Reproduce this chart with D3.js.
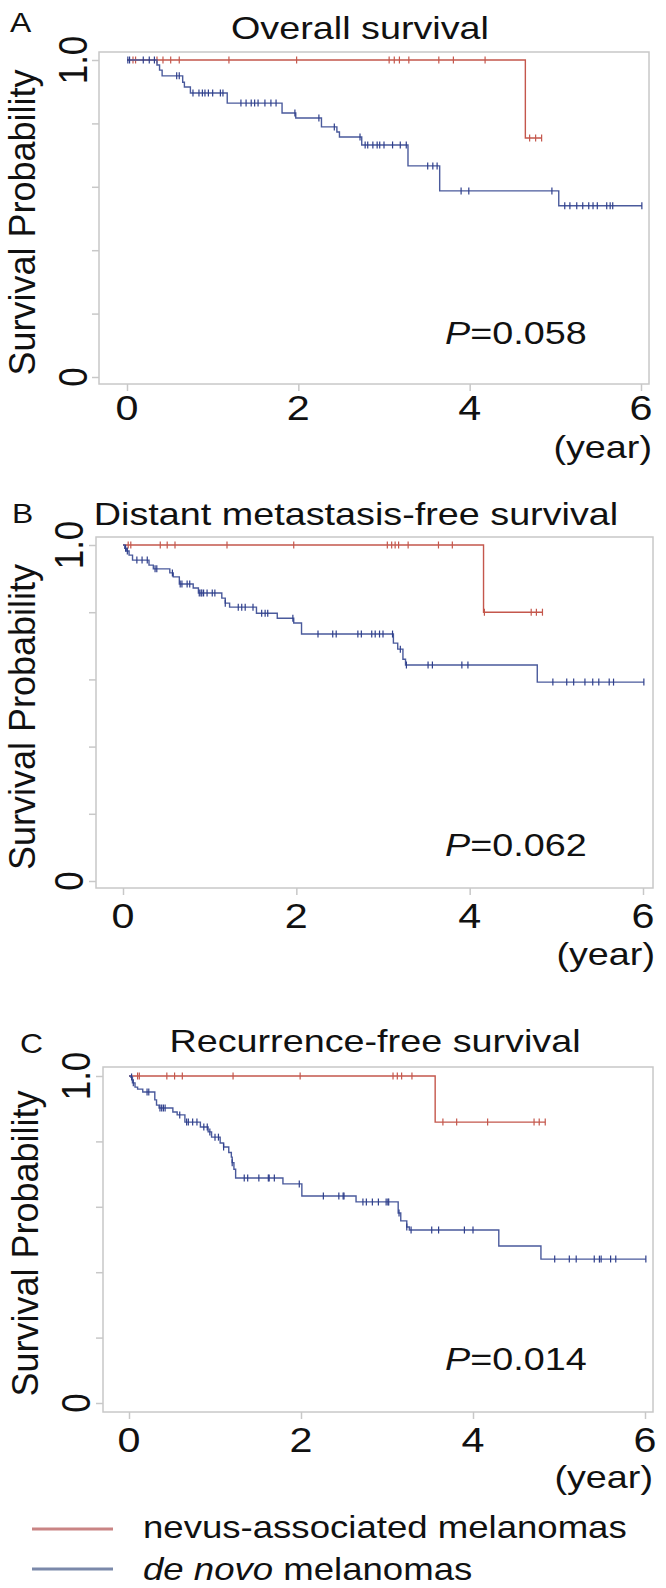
<!DOCTYPE html>
<html><head><meta charset="utf-8">
<script src="https://cdn.jsdelivr.net/npm/d3@7"></script>
<style>
body{margin:0;background:#fff}
svg{display:block}
text{font-family:"Liberation Sans",Arial,Helvetica,sans-serif;fill:#111}
</style>
</head><body>
<svg id="chart" width="666" height="1588"></svg>
<script>
// ---------------- DATA ----------------
const panelLetters = ["A", "B", "C"];
const panelTitles = ["Overall survival", "Distant metastasis-free survival", "Recurrence-free survival"];
const pValues = ["0.058", "0.062", "0.014"];
const seriesNames = ["nevus-associated melanomas", "de novo melanomas"];
const xTickValues = [0, 2, 4, 6];
const xTickLabels = ["0", "2", "4", "6"];
const yTickValues = [0, 0.2, 0.4, 0.6, 0.8, 1.0];
const yTickLabels = ["0", "", "", "", "", "1.0"];
const xUnitLabel = "(year)";
const yAxisTitle = "Survival Probability";

// Panel A - Overall survival
const A_nevus_eventTimes = [4.65];
const A_nevus_survival = [0.754];
const A_nevus_censored = [0.07, 0.10, 0.35, 0.42, 0.51, 0.61, 1.19, 1.98, 3.06, 3.12, 3.18, 3.29, 3.64, 3.81, 4.18, 4.70, 4.77, 4.84];
const A_denovo_eventTimes = [0.35, 0.38, 0.41, 0.65, 0.67, 0.74, 1.17, 1.81, 1.97, 2.27, 2.45, 2.48, 2.74, 3.28, 3.65, 5.04];
const A_denovo_survival = [0.984, 0.968, 0.950, 0.930, 0.915, 0.896, 0.864, 0.833, 0.817, 0.789, 0.773, 0.757, 0.732, 0.666, 0.587, 0.540];
const A_denovo_censored = [0.01, 0.03, 0.19, 0.26, 0.32, 0.58, 0.61, 0.77, 0.84, 0.88, 0.91, 0.95, 1.00, 1.09, 1.12, 1.33, 1.39, 1.45, 1.49, 1.53, 1.61, 1.68, 1.74, 1.96, 2.24, 2.42, 2.72, 2.78, 2.81, 2.87, 2.92, 2.95, 3.00, 3.10, 3.19, 3.26, 3.51, 3.57, 3.62, 3.90, 3.99, 4.96, 5.11, 5.17, 5.25, 5.32, 5.39, 5.44, 5.49, 5.60, 5.64, 5.67, 6.01];

// Panel B - Distant metastasis-free survival
const B_nevus_eventTimes = [4.16];
const B_nevus_survival = [0.800];
const B_nevus_censored = [0.06, 0.09, 0.43, 0.51, 0.60, 1.20, 1.97, 3.05, 3.10, 3.14, 3.18, 3.29, 3.64, 3.80, 4.17, 4.71, 4.77, 4.84];
const B_denovo_eventTimes = [0.02, 0.04, 0.07, 0.11, 0.30, 0.35, 0.54, 0.58, 0.65, 0.81, 0.87, 1.14, 1.18, 1.23, 1.54, 1.78, 1.97, 2.06, 3.12, 3.17, 3.23, 3.26, 4.78];
const B_denovo_survival = [0.990, 0.982, 0.970, 0.955, 0.940, 0.929, 0.917, 0.905, 0.884, 0.872, 0.857, 0.842, 0.827, 0.815, 0.797, 0.782, 0.768, 0.735, 0.708, 0.690, 0.660, 0.643, 0.592];
const B_denovo_censored = [0.03, 0.05, 0.16, 0.22, 0.28, 0.37, 0.39, 0.57, 0.66, 0.68, 0.74, 0.77, 0.88, 0.90, 0.91, 0.93, 0.97, 1.03, 1.06, 1.18, 1.33, 1.37, 1.41, 1.50, 1.60, 1.64, 1.67, 1.96, 2.25, 2.42, 2.46, 2.71, 2.75, 2.87, 2.91, 2.96, 3.00, 3.11, 3.20, 3.27, 3.52, 3.57, 3.91, 3.98, 4.96, 5.12, 5.20, 5.33, 5.42, 5.49, 5.61, 5.66, 6.01];

// Panel C - Recurrence-free survival
const C_nevus_eventTimes = [3.56];
const C_nevus_survival = [0.859];
const C_nevus_censored = [0.10, 0.12, 0.44, 0.53, 0.62, 1.21, 1.99, 3.07, 3.12, 3.17, 3.29, 3.65, 3.81, 4.17, 4.71, 4.77, 4.84];
const C_denovo_eventTimes = [0.02, 0.04, 0.07, 0.10, 0.16, 0.30, 0.32, 0.35, 0.51, 0.56, 0.65, 0.83, 0.92, 0.96, 1.06, 1.10, 1.16, 1.19, 1.20, 1.22, 1.24, 1.79, 2.01, 2.64, 3.13, 3.16, 3.23, 3.26, 4.30, 4.79];
const C_denovo_survival = [0.997, 0.979, 0.966, 0.960, 0.951, 0.927, 0.911, 0.902, 0.890, 0.881, 0.859, 0.844, 0.829, 0.813, 0.795, 0.783, 0.766, 0.752, 0.735, 0.715, 0.688, 0.670, 0.633, 0.615, 0.581, 0.557, 0.538, 0.529, 0.480, 0.440];
const C_denovo_censored = [0.03, 0.05, 0.21, 0.23, 0.36, 0.38, 0.40, 0.42, 0.59, 0.67, 0.69, 0.74, 0.79, 0.87, 0.91, 0.94, 1.00, 1.04, 1.10, 1.20, 1.34, 1.38, 1.51, 1.62, 1.63, 1.69, 1.98, 2.26, 2.44, 2.49, 2.50, 2.72, 2.76, 2.83, 2.90, 2.99, 3.01, 3.02, 3.14, 3.23, 3.28, 3.52, 3.60, 3.90, 4.00, 4.95, 5.12, 5.20, 5.41, 5.47, 5.49, 5.60, 5.66, 6.01];

// -------------- LAYOUT / STYLE --------------
const SX = 1.18;      // horizontal stretch of the lettering
const SX_YTITLE = 1.05;
const layout = [
  {frame:[99,52,649,384],   xr:[127,641], yr:[377,60],    letter:[10,32],   title:[360,39],   xLab:420,  year:[652,458],  p:[445,344],  yLabX:87, yTitleX:35},
  {frame:[96,537,653,888],  xr:[123,643], yr:[881,545],   letter:[12,523],  title:[356,525],  xLab:928,  year:[655,965],  p:[445,856],  yLabX:83, yTitleX:35},
  {frame:[103,1067,653,1412], xr:[129,645], yr:[1403,1076], letter:[20,1053], title:[375,1052], xLab:1452, year:[653,1488], p:[445,1370], yLabX:90, yTitleX:38}
];
const colors = {nevus:"#c4574c", denovo:"#4a5a9c", denovoTick:"#2f3f8c", frame:"#c8c8c8", legNevus:"#c98484", legDenovo:"#7b89aa"};

const panels = [
  {nevus:{t:A_nevus_eventTimes, s:A_nevus_survival, c:A_nevus_censored}, denovo:{t:A_denovo_eventTimes, s:A_denovo_survival, c:A_denovo_censored}},
  {nevus:{t:B_nevus_eventTimes, s:B_nevus_survival, c:B_nevus_censored}, denovo:{t:B_denovo_eventTimes, s:B_denovo_survival, c:B_denovo_censored}},
  {nevus:{t:C_nevus_eventTimes, s:C_nevus_survival, c:C_nevus_censored}, denovo:{t:C_denovo_eventTimes, s:C_denovo_survival, c:C_denovo_censored}}
];

const svg = d3.select("#chart");

function stxt(parent, x, y, size, rot, sx) {
  return parent.append("text")
    .attr("transform", `translate(${x},${y}) scale(${sx || SX},1)` + (rot ? " rotate(-90)" : ""))
    .attr("font-size", size);
}
function survAt(times, surv, t) {
  let s = 1;
  for (let k = 0; k < times.length; k++) if (times[k] <= t + 1e-9) s = surv[k];
  return s;
}

panels.forEach((P, i) => {
  const L = layout[i];
  const x = d3.scaleLinear().domain([0, 6]).range(L.xr);
  const y = d3.scaleLinear().domain([0, 1]).range(L.yr);
  const g = svg.append("g");

  // frame
  g.append("rect")
    .attr("x", L.frame[0]).attr("y", L.frame[1])
    .attr("width", L.frame[2] - L.frame[0]).attr("height", L.frame[3] - L.frame[1])
    .attr("fill", "none").attr("stroke", colors.frame).attr("stroke-width", 1.5);

  // axes tick marks
  const xa = d3.axisBottom(x).tickValues(xTickValues).tickSize(7).tickSizeOuter(0).tickFormat("");
  g.append("g").attr("transform", `translate(0,${L.frame[3]})`).call(xa)
    .call(s => s.select(".domain").remove())
    .selectAll("line").attr("stroke", colors.frame).attr("stroke-width", 1.5);
  const ya = d3.axisLeft(y).tickValues(yTickValues).tickSize(7).tickSizeOuter(0).tickFormat("");
  g.append("g").attr("transform", `translate(${L.frame[0]},0)`).call(ya)
    .call(s => s.select(".domain").remove())
    .selectAll("line").attr("stroke", colors.frame).attr("stroke-width", 1.5);

  // tick labels
  xTickValues.forEach((v, k) => {
    stxt(g, x(v), L.xLab, 35).attr("text-anchor", "middle").text(xTickLabels[k]);
  });
  yTickValues.forEach((v, k) => {
    if (yTickLabels[k]) stxt(g, L.yLabX, y(v), 35, true).attr("text-anchor", "middle").text(yTickLabels[k]);
  });

  // axis titles, panel title, letter
  stxt(g, L.yTitleX, (L.yr[0] + L.yr[1]) / 2 + 4, 36, true, SX_YTITLE).attr("text-anchor", "middle").text(yAxisTitle);
  stxt(g, L.year[0], L.year[1], 32).attr("text-anchor", "end").text(xUnitLabel);
  stxt(g, L.title[0], L.title[1], 32).attr("text-anchor", "middle").text(panelTitles[i]);
  stxt(g, L.letter[0], L.letter[1], 27).text(panelLetters[i]);
  const pt = stxt(g, L.p[0], L.p[1], 32);
  pt.append("tspan").attr("font-style", "italic").text("P");
  pt.append("tspan").text("=" + pValues[i]);

  // curves
  const line = d3.line().x(d => x(d[0])).y(d => y(d[1])).curve(d3.curveStepAfter);
  [["nevus", colors.nevus, colors.nevus], ["denovo", colors.denovo, colors.denovoTick]].forEach(([key, col, tickCol]) => {
    const D = P[key];
    const tEnd = d3.max(D.c);
    const pts = [[0, 1]];
    D.t.forEach((t, k) => pts.push([t, D.s[k]]));
    pts.push([tEnd, survAt(D.t, D.s, tEnd)]);
    g.append("path").attr("d", line(pts)).attr("fill", "none")
      .attr("stroke", col).attr("stroke-width", 1.4);
    g.append("g").selectAll("line").data(D.c).join("line")
      .attr("x1", d => x(d)).attr("x2", d => x(d))
      .attr("y1", d => y(survAt(D.t, D.s, d)) - 3.5)
      .attr("y2", d => y(survAt(D.t, D.s, d)) + 3.5)
      .attr("stroke", tickCol).attr("stroke-width", 1.2);
  });
});

// legend
const leg = svg.append("g");
const legendRows = [{name: seriesNames[0], col: colors.legNevus, ly: 1529, ty: 1538, italic: ""},
                    {name: seriesNames[1], col: colors.legDenovo, ly: 1569, ty: 1580, italic: "de novo"}];
legendRows.forEach(r => {
  leg.append("line").attr("x1", 32).attr("x2", 113).attr("y1", r.ly).attr("y2", r.ly)
    .attr("stroke", r.col).attr("stroke-width", 3);
  const t = stxt(leg, 143, r.ty, 31);
  if (r.italic) {
    t.append("tspan").attr("font-style", "italic").text(r.italic);
    t.append("tspan").text(r.name.slice(r.italic.length));
  } else {
    t.text(r.name);
  }
});
</script>
</body></html>
